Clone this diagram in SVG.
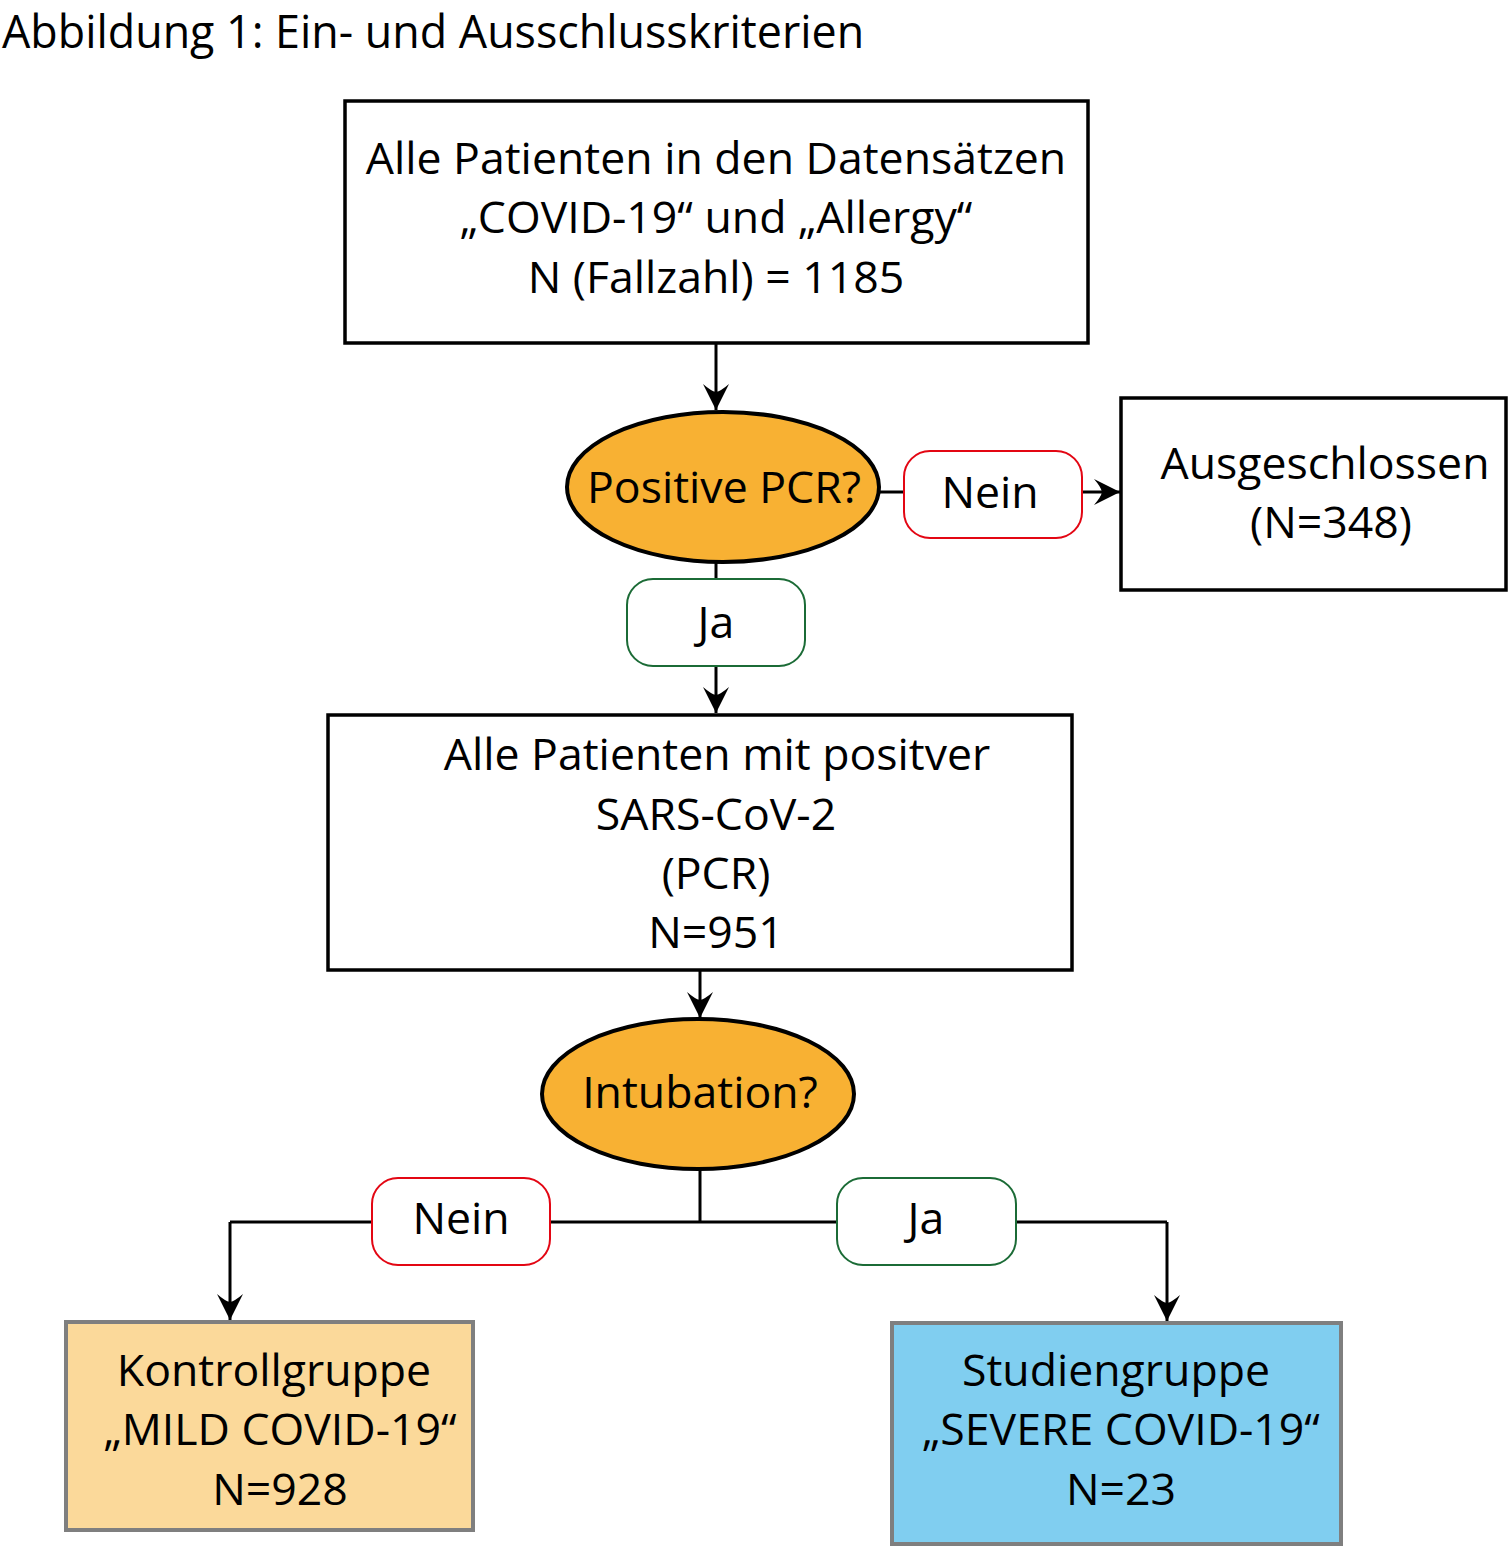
<svg xmlns="http://www.w3.org/2000/svg" width="1509" height="1547" viewBox="0 0 1509 1547">
<style>
text{font-family:"Open Sans","Noto Sans",sans-serif;font-size:44.6px;fill:#000;text-anchor:middle}
.title{text-anchor:start;font-size:44.8px}
.box{fill:#fff;stroke:#000;stroke-width:3.5}
.dec{fill:#F8B133;stroke:#000;stroke-width:4}
.no{fill:#fff;stroke:#E30613;stroke-width:2}
.yes{fill:#fff;stroke:#1B6B36;stroke-width:2}
.grp{stroke:#7F7F7F;stroke-width:4}
.con{fill:none;stroke:#000;stroke-width:3}
.arr{marker-end:url(#ah)}
</style>
<defs>
<marker id="ah" markerUnits="userSpaceOnUse" viewBox="-27 -14 28 28" refX="0" refY="0" markerWidth="28" markerHeight="28" orient="auto">
<path d="M0,0 L-26,-13 Q-19,-5 -18,0 Q-19,5 -26,13 Z" fill="#000"/>
</marker>
</defs>
<rect width="1509" height="1547" fill="#fff"/>
<text class="title" x="2" y="48">Abbildung 1: Ein- und Ausschlusskriterien</text>
<g id="connectors">
<path class="con arr" d="M716,343 V410"/>
<path class="con" d="M880,492 H904"/>
<path class="con arr" d="M1082,492 H1120"/>
<path class="con" d="M716,563 V579"/>
<path class="con arr" d="M716,666 V713"/>
<path class="con arr" d="M700,970 V1018"/>
<path class="con" d="M700,1170 V1222"/>
<path class="con" d="M372,1222 H230"/>
<path class="con arr" d="M230,1222 V1320"/>
<path class="con" d="M550,1222 H837"/>
<path class="con" d="M1016,1222 H1167"/>
<path class="con arr" d="M1167,1222 V1321"/>
</g>
<g id="n_all">
<rect class="box" x="345" y="101" width="743" height="242"/>
<text x="716" y="174">Alle Patienten in den Datensätzen</text>
<text x="716" y="233">„COVID-19“ und „Allergy“</text>
<text x="716" y="293">N (Fallzahl) = 1185</text>
</g>
<g id="n_pcr">
<ellipse class="dec" cx="723" cy="487" rx="156" ry="75"/>
<text x="724" y="503">Positive PCR?</text>
</g>
<g id="l_nein1">
<rect class="no" x="904" y="451" width="178" height="87" rx="26"/>
<text x="990" y="508">Nein</text>
</g>
<g id="n_excl">
<rect class="box" x="1121" y="398" width="385" height="192"/>
<text x="1325" y="479">Ausgeschlossen</text>
<text x="1331" y="538">(N=348)</text>
</g>
<g id="l_ja1">
<rect class="yes" x="627" y="579" width="178" height="87" rx="26"/>
<text x="716" y="638">Ja</text>
</g>
<g id="n_pos">
<rect class="box" x="328" y="715" width="744" height="255"/>
<text x="717" y="770">Alle Patienten mit positver</text>
<text x="716" y="830">SARS-CoV-2</text>
<text x="716" y="889">(PCR)</text>
<text x="716" y="948">N=951</text>
</g>
<g id="n_intub">
<ellipse class="dec" cx="698" cy="1094" rx="156" ry="75"/>
<text x="700" y="1108">Intubation?</text>
</g>
<g id="l_nein2">
<rect class="no" x="372" y="1178" width="178" height="87" rx="26"/>
<text x="461" y="1234">Nein</text>
</g>
<g id="l_ja2">
<rect class="yes" x="837" y="1178" width="179" height="87" rx="26"/>
<text x="926" y="1234">Ja</text>
</g>
<g id="n_mild">
<rect class="grp" x="66" y="1322" width="407" height="208" fill="#FBD99A"/>
<text x="274" y="1386">Kontrollgruppe</text>
<text x="280" y="1445">„MILD COVID-19“</text>
<text x="280" y="1505">N=928</text>
</g>
<g id="n_severe">
<rect class="grp" x="892" y="1323" width="449" height="221" fill="#80CEF0"/>
<text x="1116" y="1386">Studiengruppe</text>
<text x="1121" y="1445">„SEVERE COVID-19“</text>
<text x="1121" y="1505">N=23</text>
</g>
</svg>
